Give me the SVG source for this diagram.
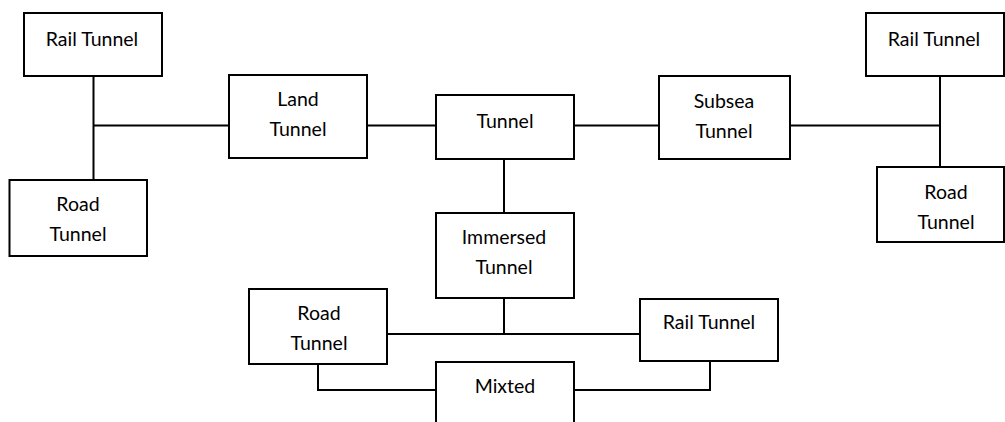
<svg xmlns="http://www.w3.org/2000/svg" width="1005" height="422" viewBox="0 0 1005 422">
<style>
.box{fill:#fff;stroke:#000;stroke-width:2}
.ln{fill:none;stroke:#000;stroke-width:2}
text{font-family:Lato,"Open Sans",sans-serif;font-size:19.5px;fill:#000;text-anchor:middle}
</style>
<rect width="1005" height="422" fill="#fff"/>
<g id="connectors">
<path class="ln" d="M93.5,76 V180 M93.5,125.5 H229"/>
<path class="ln" d="M367,125.5 H436"/>
<path class="ln" d="M574,125.5 H659"/>
<path class="ln" d="M790,125.5 H940 M940,76 V167"/>
<path class="ln" d="M504,159 V213"/>
<path class="ln" d="M387,334 H640 M504,298 V334"/>
<path class="ln" d="M318,364 V390 H436"/>
<path class="ln" d="M574,390 H710 V361"/>
</g>
<g id="rail-left"><rect class="box" x="24" y="13" width="138" height="63"/><text x="92" y="46">Rail Tunnel</text></g>
<g id="road-left"><rect class="box" x="9.5" y="180" width="137.5" height="76"/><text x="78" y="211">Road</text><text x="78" y="241">Tunnel</text></g>
<g id="land"><rect class="box" x="229" y="75" width="138" height="83"/><text x="298" y="106">Land</text><text x="298" y="136">Tunnel</text></g>
<g id="tunnel"><rect class="box" x="436" y="95" width="138" height="64"/><text x="505" y="128">Tunnel</text></g>
<g id="subsea"><rect class="box" x="659" y="76" width="131" height="83"/><text x="724" y="108">Subsea</text><text x="724" y="138">Tunnel</text></g>
<g id="rail-right"><rect class="box" x="866" y="13" width="138" height="63"/><text x="934" y="46">Rail Tunnel</text></g>
<g id="road-right"><rect class="box" x="877" y="167" width="127" height="75"/><text x="946" y="199">Road</text><text x="946" y="229">Tunnel</text></g>
<g id="immersed"><rect class="box" x="436" y="213" width="138" height="85"/><text x="504" y="244">Immersed</text><text x="504" y="274">Tunnel</text></g>
<g id="road-bottom"><rect class="box" x="249" y="289" width="138" height="75"/><text x="319" y="320">Road</text><text x="319" y="350">Tunnel</text></g>
<g id="rail-bottom"><rect class="box" x="640" y="299" width="138" height="62"/><text x="709" y="329">Rail Tunnel</text></g>
<g id="mixted"><path class="box" d="M436,424 V362 H574 V424"/><text x="505" y="393">Mixted</text></g>
</svg>
